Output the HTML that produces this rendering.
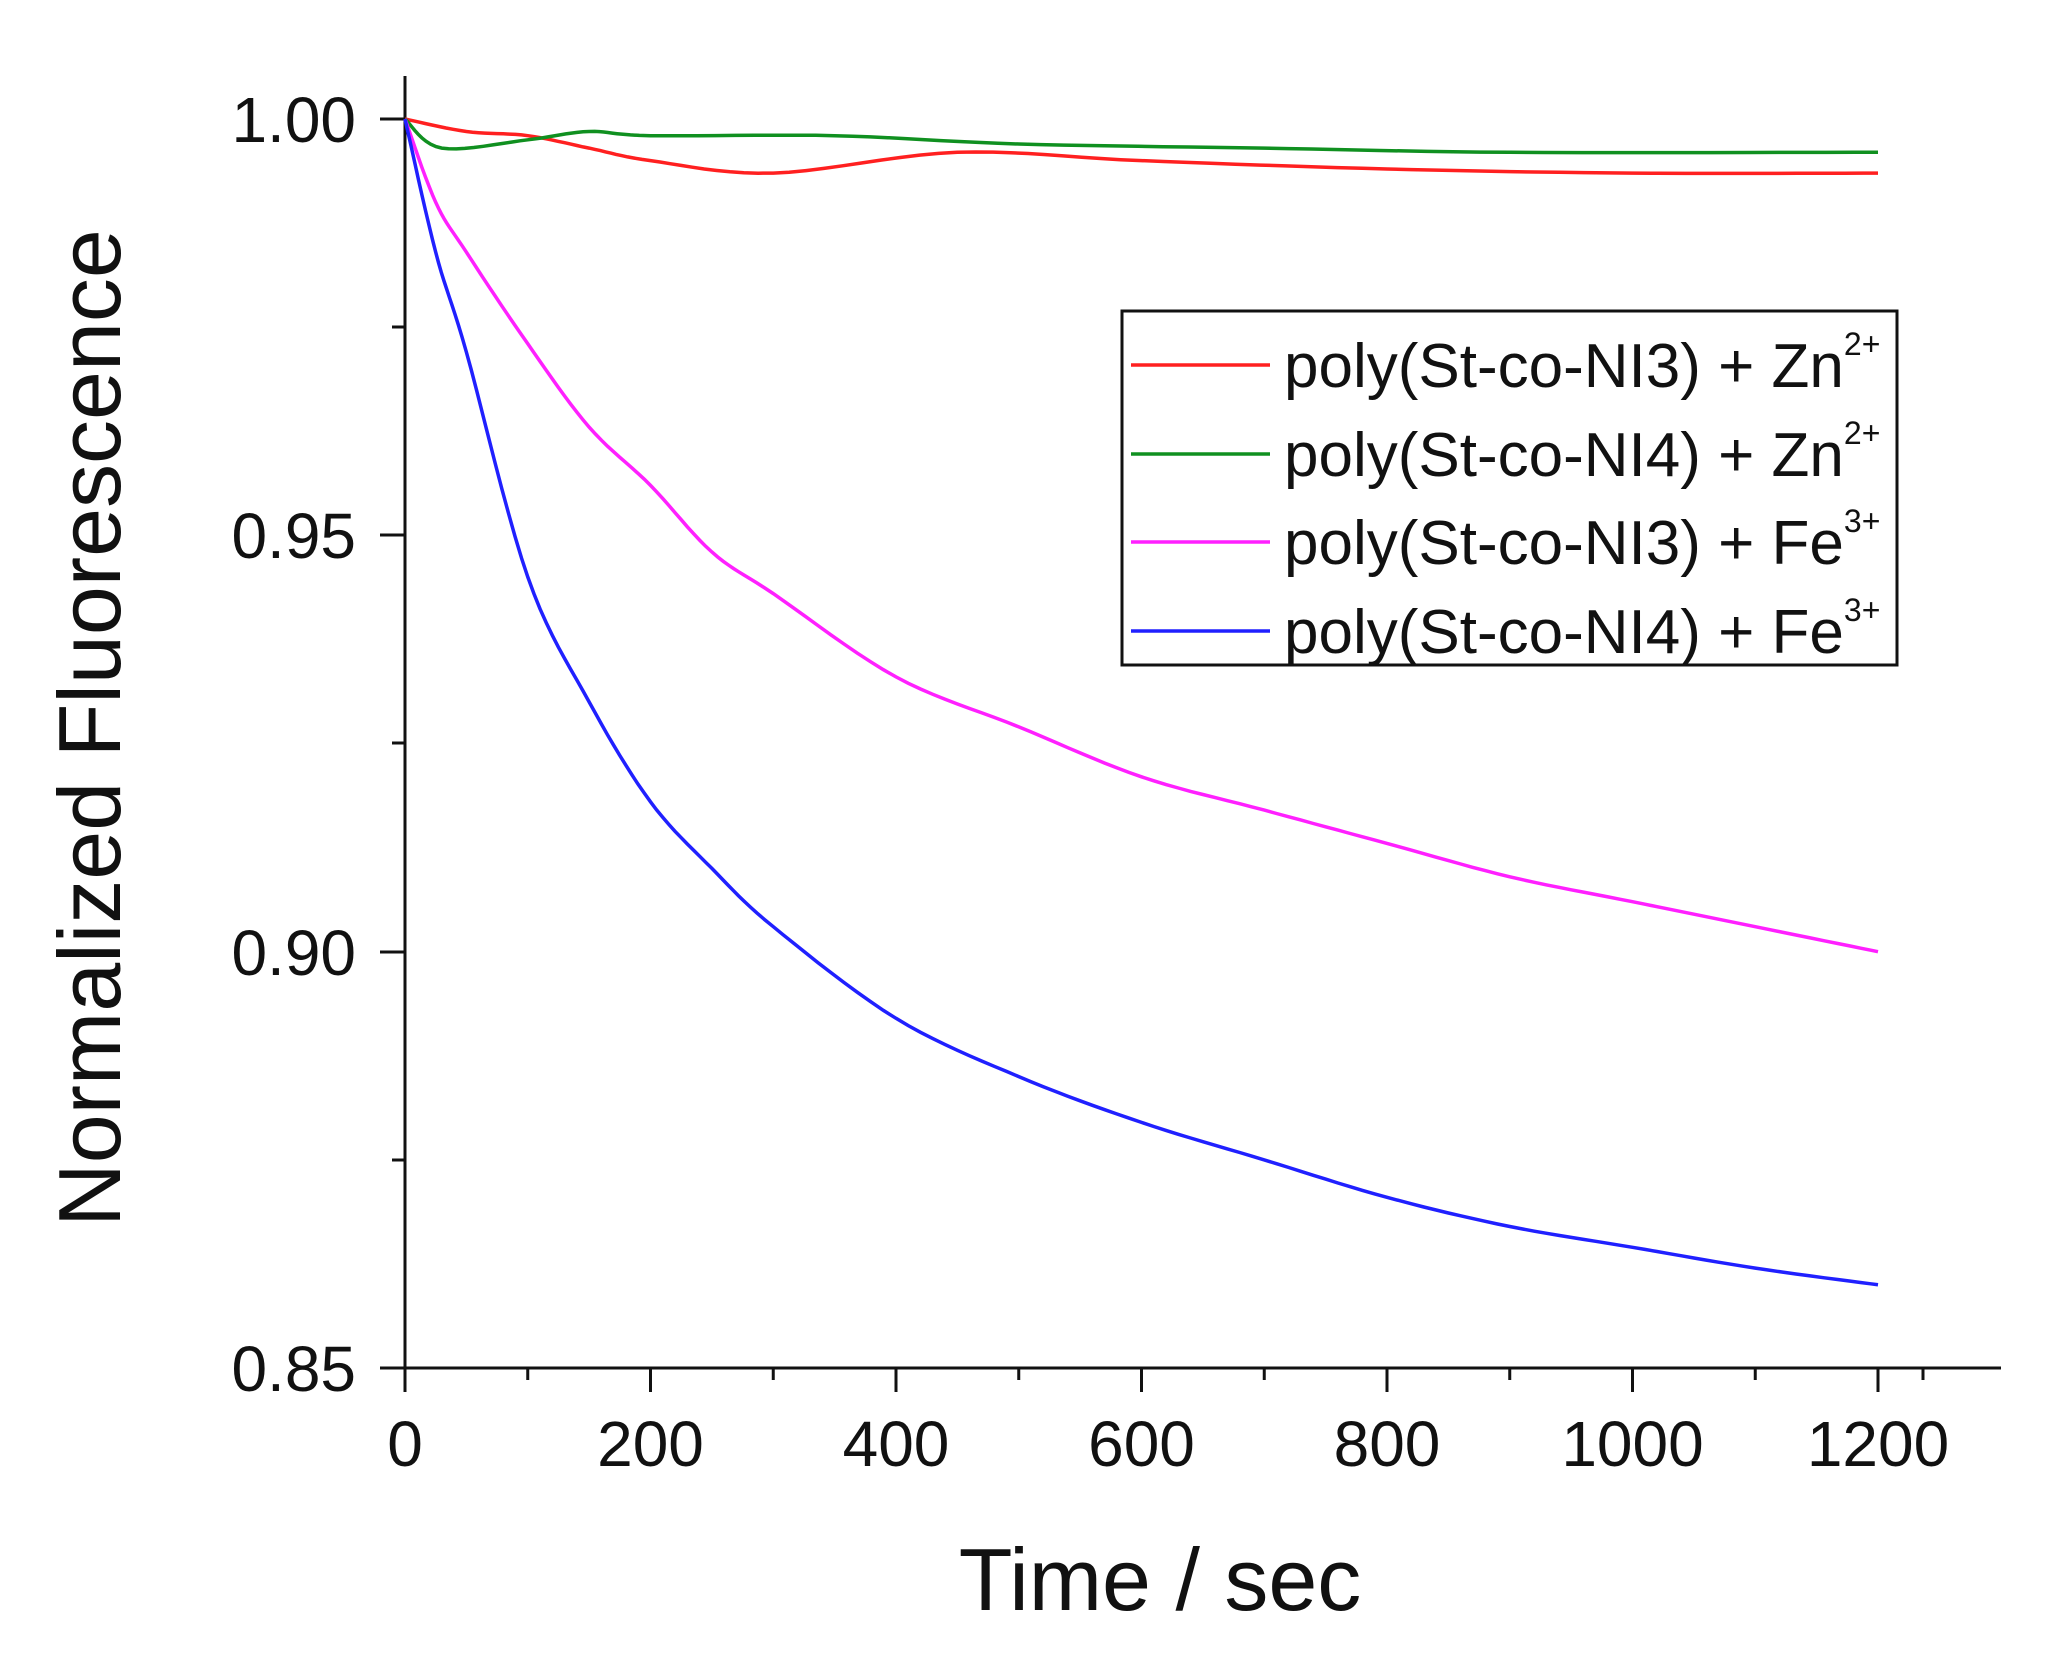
<!DOCTYPE html>
<html><head><meta charset="utf-8"><style>
html,body{margin:0;padding:0;background:#fff;}
svg{display:block;}
text{font-family:"Liberation Sans",Arial,sans-serif;fill:#111;}
</style></head><body>
<svg id="s" width="2047" height="1665" viewBox="0 0 2047 1665" xmlns="http://www.w3.org/2000/svg">
<g stroke="#111" stroke-width="3" fill="none">
<line x1="405" y1="76" x2="405" y2="1392"/>
<line x1="380" y1="1368" x2="2001" y2="1368"/>
<line x1="380" y1="119" x2="405" y2="119"/>
<line x1="380" y1="535" x2="405" y2="535"/>
<line x1="380" y1="952" x2="405" y2="952"/>
<line x1="392" y1="327" x2="405" y2="327"/>
<line x1="392" y1="743" x2="405" y2="743"/>
<line x1="392" y1="1160" x2="405" y2="1160"/>
<line x1="650.5" y1="1368" x2="650.5" y2="1392"/>
<line x1="896" y1="1368" x2="896" y2="1392"/>
<line x1="1141.5" y1="1368" x2="1141.5" y2="1392"/>
<line x1="1387" y1="1368" x2="1387" y2="1392"/>
<line x1="1632.5" y1="1368" x2="1632.5" y2="1392"/>
<line x1="1878" y1="1368" x2="1878" y2="1392"/>
<line x1="527.75" y1="1368" x2="527.75" y2="1380"/>
<line x1="773.25" y1="1368" x2="773.25" y2="1380"/>
<line x1="1018.75" y1="1368" x2="1018.75" y2="1380"/>
<line x1="1264.25" y1="1368" x2="1264.25" y2="1380"/>
<line x1="1509.75" y1="1368" x2="1509.75" y2="1380"/>
<line x1="1755.25" y1="1368" x2="1755.25" y2="1380"/>
<line x1="1923" y1="1368" x2="1923" y2="1380"/>
</g>
<g font-size="64" text-anchor="end">
<text x="356" y="142">1.00</text>
<text x="356" y="558">0.95</text>
<text x="356" y="975">0.90</text>
<text x="356" y="1391">0.85</text>
</g>
<g font-size="64" text-anchor="middle">
<text x="405" y="1466">0</text>
<text x="650.5" y="1466">200</text>
<text x="896" y="1466">400</text>
<text x="1141.5" y="1466">600</text>
<text x="1387" y="1466">800</text>
<text x="1632.5" y="1466">1000</text>
<text x="1878" y="1466">1200</text>
</g>
<text x="1160" y="1610" font-size="88" text-anchor="middle">Time / sec</text>
<text transform="translate(120,728) rotate(-90)" font-size="88" text-anchor="middle">Normalized Fluorescence</text>
<g id="curves" fill="none" stroke-width="3.5"></g>
<rect x="1122" y="311" width="775" height="354" fill="#fff" stroke="#111" stroke-width="3"/>
<g stroke-width="3.5">
<line x1="1131" y1="365" x2="1270" y2="365" stroke="#ff2020"/>
<line x1="1131" y1="454" x2="1270" y2="454" stroke="#109020"/>
<line x1="1131" y1="542" x2="1270" y2="542" stroke="#ff20ff"/>
<line x1="1131" y1="631" x2="1270" y2="631" stroke="#2020ff"/>
</g>
<g font-size="62">
<text x="1284" y="387">poly(St-co-NI3) + Zn<tspan font-size="32" dy="-32">2+</tspan></text>
<text x="1284" y="476">poly(St-co-NI4) + Zn<tspan font-size="32" dy="-32">2+</tspan></text>
<text x="1284" y="564">poly(St-co-NI3) + Fe<tspan font-size="32" dy="-32">3+</tspan></text>
<text x="1284" y="653">poly(St-co-NI4) + Fe<tspan font-size="32" dy="-32">3+</tspan></text>
</g>
</svg>
<script>
(function(){
var X=function(t){return 405+t*245.5/200;},Y=function(v){return 119+(1-v)*8327;};
var S=[
["#ff2020",[[0,1],[50,.9985],[100,.998],[150,.9965],[200,.995],[300,.9935],[450,.996],[600,.995],[800,.994],[1000,.9935],[1200,.9935]]],
["#109020",[[0,1],[30,.9965],[100,.9975],[150,.9985],[200,.998],[350,.998],[500,.997],[700,.9965],[900,.996],[1200,.996]]],
["#ff20ff",[[0,1],[25,.990],[50,.984],[100,.973],[150,.963],[200,.956],[250,.948],[300,.943],[400,.933],[500,.927],[600,.921],[700,.917],[800,.913],[900,.909],[1000,.906],[1100,.903],[1200,.900]]],
["#2020ff",[[0,1],[25,.984],[50,.972],[100,.945],[150,.930],[200,.918],[250,.910],[300,.903],[400,.892],[500,.885],[600,.8795],[700,.875],[800,.8705],[900,.867],[1000,.8645],[1100,.862],[1200,.860]]]
];
var g=document.getElementById('curves'),ns='http://www.w3.org/2000/svg';
S.forEach(function(s){
 var p=s[1],pts=[];
 for(var i=0;i<p.length-1;i++){
  var a=p[i],b=p[i+1],p0=p[Math.max(0,i-1)],p3=p[Math.min(p.length-1,i+2)];
  for(var k=0;k<10;k++){var u=k/10,u2=u*u,u3=u2*u;
   var f=function(j){return 0.5*((2*a[j])+(-p0[j]+b[j])*u+(2*p0[j]-5*a[j]+4*b[j]-p3[j])*u2+(-p0[j]+3*a[j]-3*b[j]+p3[j])*u3);};
   pts.push(X(f(0)).toFixed(1)+','+Y(f(1)).toFixed(1));}
 }
 var l=p[p.length-1];pts.push(X(l[0])+','+Y(l[1]));
 var e=document.createElementNS(ns,'polyline');e.setAttribute('points',pts.join(' '));e.setAttribute('stroke',s[0]);g.appendChild(e);
});
})();
</script>
</body></html>
